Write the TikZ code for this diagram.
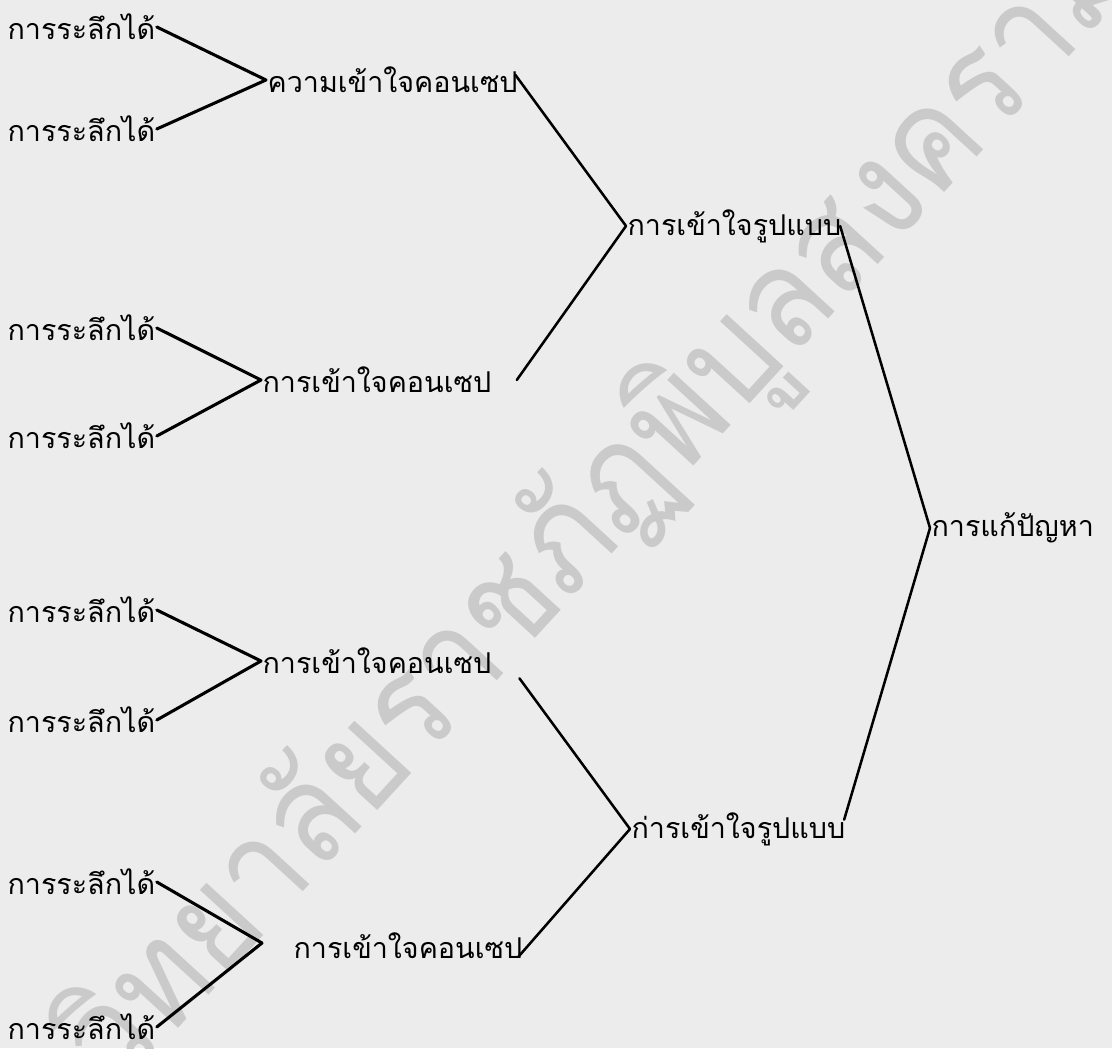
\documentclass[tikz,border=0pt]{standalone}
\usepackage{fontspec}
\newfontfamily\thaifont[Script=Thai]{Loma}
\newfontfamily\stampfont[Script=Thai,FakeStretch=0.9]{Loma}
\definecolor{paper}{RGB}{236,236,236}
\definecolor{stamp}{RGB}{202,202,202}

\begin{document}
\begin{tikzpicture}[x=0.75pt,y=-0.75pt,
  lab/.style={font=\thaifont\fontsize{21.5}{24}\selectfont, inner sep=1pt, anchor=west},
  twig/.style={line width=2.3pt, line cap=round},
  link/.style={line width=1.9pt, line cap=round}]
\fill[paper] (0,0) rectangle (1112,1048);
\useasboundingbox (0,0) rectangle (1112,1048);

% faint diagonal stamp in the background
\begin{scope}
  \clip (0,0) rectangle (1112,1048);
  \node[text=stamp, font=\stampfont\fontsize{104}{104}\selectfont, rotate=47.5,
        anchor=base west, inner sep=0pt] (stampText) at (118,1094) {วิทยาลัยราชภัฏพิบูลสงคราม};
\end{scope}

% first level
\node[lab] (l1) at (6,27)   {การระลึกได้};
\node[lab] (l2) at (6,129)  {การระลึกได้};
\node[lab] (l3) at (6,328)  {การระลึกได้};
\node[lab] (l4) at (6,436)  {การระลึกได้};
\node[lab] (l5) at (6,610)  {การระลึกได้};
\node[lab] (l6) at (6,720)  {การระลึกได้};
\node[lab] (l7) at (6,882)  {การระลึกได้};
\node[lab] (l8) at (6,1027) {การระลึกได้};

% second level
\node[lab] (n1) at (266,80)  {ความเข้าใจคอนเซป};
\node[lab] (n2) at (261,380) {การเข้าใจคอนเซป};
\node[lab] (n3) at (261,661) {การเข้าใจคอนเซป};
\node[lab] (n4) at (292,946) {การเข้าใจคอนเซป};
\coordinate (j4) at (262,943);

% third level
\node[lab] (m1) at (626,226) {การเข้าใจรูปแบบ};
\node[lab] (m2) at (630,829) {ก่ารเข้าใจรูปแบบ};

% top
\node[lab] (r) at (930,528) {การแก้ปัญหา};

% connectors
\draw[twig] (l1.east) -- (n1.west);
\draw[twig] (l2.east) -- (n1.west);
\draw[twig] (l3.east) -- (n2.west);
\draw[twig] (l4.east) -- (n2.west);
\draw[twig] (l5.east) -- (n3.west);
\draw[twig] (l6.east) -- (n3.west);
\draw[twig] (l7.east) -- (j4);
\draw[twig] (l8.east) -- (j4);

\draw[link] ([xshift=-3pt,yshift=4pt]n1.east) -- (m1.west);
\draw[link] ([xshift=18pt]n2.east) -- (m1.west);
\draw[link] ([xshift=20pt,yshift=-13pt]n3.east) -- (m2.west);
\draw[link] ([xshift=-4pt,yshift=-8pt]n4.east) -- (m2.west);

\draw[link] ([xshift=-2pt]m1.east) -- (r.west);
\draw[link] ([xshift=-2pt,yshift=7pt]m2.east) -- (r.west);
\end{tikzpicture}
\end{document}
